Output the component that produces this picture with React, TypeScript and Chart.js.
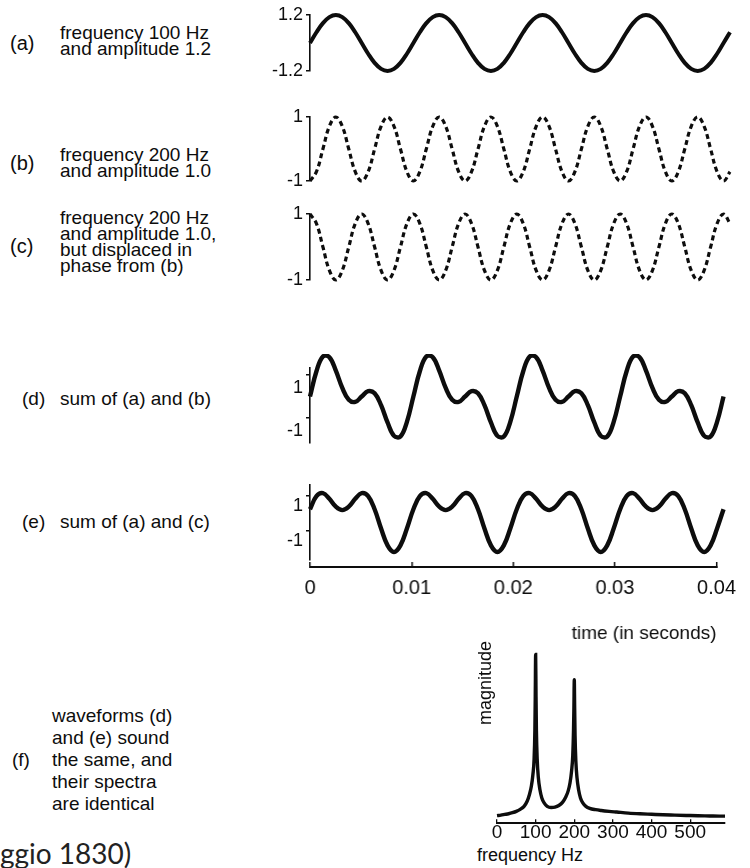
import React, { useEffect, useRef } from "react";
import { Chart, registerables } from "chart.js";

Chart.register(...registerables);

// ---------------- data ----------------
const sampleTimes = [
  0, 0.000625, 0.00125, 0.001875, 0.0025, 0.003125, 0.00375, 0.004375,
  0.005, 0.005625, 0.00625, 0.006875, 0.0075, 0.008125, 0.00875, 0.009375,
  0.01, 0.010625, 0.01125, 0.011875, 0.0125, 0.013125, 0.01375, 0.014375,
  0.015, 0.015625, 0.01625, 0.016875, 0.0175, 0.018125, 0.01875, 0.019375,
  0.02, 0.020625, 0.02125, 0.021875, 0.0225, 0.023125, 0.02375, 0.024375,
  0.025, 0.025625, 0.02625, 0.026875, 0.0275, 0.028125, 0.02875, 0.029375,
  0.03, 0.030625, 0.03125, 0.031875, 0.0325, 0.033125, 0.03375, 0.034375,
  0.035, 0.035625, 0.03625, 0.036875, 0.0375, 0.038125, 0.03875, 0.039375,
  0.04, 0.040625,
];

// (a) 100 Hz, amplitude 1.2
const waveA = [
  0, 0.46, 0.85, 1.11, 1.2, 1.11, 0.85, 0.46, 0, -0.46, -0.85, -1.11, -1.2, -1.11, -0.85, -0.46,
  0, 0.46, 0.85, 1.11, 1.2, 1.11, 0.85, 0.46, 0, -0.46, -0.85, -1.11, -1.2, -1.11, -0.85, -0.46,
  0, 0.46, 0.85, 1.11, 1.2, 1.11, 0.85, 0.46, 0, -0.46, -0.85, -1.11, -1.2, -1.11, -0.85, -0.46,
  0, 0.46, 0.85, 1.11, 1.2, 1.11, 0.85, 0.46, 0, -0.46, -0.85, -1.11, -1.2, -1.11, -0.85, -0.46,
  0, 0.46,
];

// (b) 200 Hz, amplitude 1.0
const waveB = [
  -1, -0.71, 0, 0.71, 1, 0.71, 0, -0.71, -1, -0.71, 0, 0.71, 1, 0.71, 0, -0.71,
  -1, -0.71, 0, 0.71, 1, 0.71, 0, -0.71, -1, -0.71, 0, 0.71, 1, 0.71, 0, -0.71,
  -1, -0.71, 0, 0.71, 1, 0.71, 0, -0.71, -1, -0.71, 0, 0.71, 1, 0.71, 0, -0.71,
  -1, -0.71, 0, 0.71, 1, 0.71, 0, -0.71, -1, -0.71, 0, 0.71, 1, 0.71, 0, -0.71,
  -1, -0.71,
];

// (c) 200 Hz, amplitude 1.0, displaced in phase
const waveC = [
  1, 0.71, 0, -0.71, -1, -0.71, 0, 0.71, 1, 0.71, 0, -0.71, -1, -0.71, 0, 0.71,
  1, 0.71, 0, -0.71, -1, -0.71, 0, 0.71, 1, 0.71, 0, -0.71, -1, -0.71, 0, 0.71,
  1, 0.71, 0, -0.71, -1, -0.71, 0, 0.71, 1, 0.71, 0, -0.71, -1, -0.71, 0, 0.71,
  1, 0.71, 0, -0.71, -1, -0.71, 0, 0.71, 1, 0.71, 0, -0.71, -1, -0.71, 0, 0.71,
  1, 0.71,
];

// (d) sum of (a) and (b)
const waveD = [
  0, 1.17, 1.85, 1.82, 1.2, 0.4, -0.15, -0.25, 0, 0.25, 0.15, -0.4, -1.2, -1.82, -1.85, -1.17,
  0, 1.17, 1.85, 1.82, 1.2, 0.4, -0.15, -0.25, 0, 0.25, 0.15, -0.4, -1.2, -1.82, -1.85, -1.17,
  0, 1.17, 1.85, 1.82, 1.2, 0.4, -0.15, -0.25, 0, 0.25, 0.15, -0.4, -1.2, -1.82, -1.85, -1.17,
  0, 1.17, 1.85, 1.82, 1.2, 0.4, -0.15, -0.25, 0, 0.25, 0.15, -0.4, -1.2, -1.82, -1.85, -1.17,
  0,
];

// (e) sum of (a) and (c)
const waveE = [
  0.25, 1, 1.17, 0.85, 0.4, 0.2, 0.4, 0.85, 1.17, 1, 0.25, -0.85, -1.82, -2.2, -1.82, -0.85,
  0.25, 1, 1.17, 0.85, 0.4, 0.2, 0.4, 0.85, 1.17, 1, 0.25, -0.85, -1.82, -2.2, -1.82, -0.85,
  0.25, 1, 1.17, 0.85, 0.4, 0.2, 0.4, 0.85, 1.17, 1, 0.25, -0.85, -1.82, -2.2, -1.82, -0.85,
  0.25, 1, 1.17, 0.85, 0.4, 0.2, 0.4, 0.85, 1.17, 1, 0.25, -0.85, -1.82, -2.2, -1.82, -0.85,
  0.25,
];

const ampTicksA = [1.2, -1.2];
const ampTickLabelsA = ["1.2", "-1.2"];
const ampTicks = [1, -1];
const ampTickLabels = ["1", "-1"];

const timeTicks = [0, 0.01, 0.02, 0.03, 0.04];
const timeTickLabels = ["0", "0.01", "0.02", "0.03", "0.04"];

// (f) spectrum
const specFreq = [
  0, 10, 20, 30, 40, 50, 60, 70, 78, 84, 89, 93, 96, 98, 99, 100, 101, 102, 104, 107, 111, 116,
  122, 130, 140, 150, 160, 170, 178, 184, 189, 193, 196, 198, 199, 200, 201, 202, 204, 207, 211,
  216, 222, 230, 240, 255, 270, 290, 310, 340, 370, 400, 430, 460, 490, 520, 550, 575, 590,
];
const specMag = [
  4.5, 4.8, 5.2, 5.6, 6.2, 7, 8.2, 10, 13, 17, 22, 29, 38, 55, 75, 100, 75, 55, 38, 27, 20, 15,
  12, 10, 9.3, 9.5, 10.5, 12.5, 15.5, 19, 24, 31, 40, 55, 68, 85, 68, 52, 37, 27, 20,
  15, 12, 10, 8.8, 8, 7.5, 7, 6.6, 6, 5.6, 5.3, 5, 4.8, 4.6, 4.4, 4.3, 4.2, 4.2,
];
const freqTicks = [0, 100, 200, 300, 400, 500];
const freqTickLabels = ["0", "100", "200", "300", "400", "500"];

// ---------------- styling ----------------
const INK = "#0d0d0d";
const SANS = "'Liberation Sans', Arial, Helvetica, sans-serif";
const WAVE_LEFT = 250;
const WAVE_W = 490;
const Y_AXIS_W = 60;
const WAVE_RPAD = 10;
const VPAD = 14;

type WaveProps = {
  values: number[];
  dashed?: boolean;
  yMin: number;
  yMax: number;
  areaTop: number;
  areaBottom: number;
  ticks: number[];
  tickLabels: string[];
  labelOffset?: number;
  lineWidth?: number;
};

function WavePanel(p: WaveProps) {
  const ref = useRef<HTMLCanvasElement>(null);
  const h = p.areaBottom - p.areaTop + 2 * VPAD;
  useEffect(() => {
    const tMax = sampleTimes[sampleTimes.length - 1];
    const chart = new Chart(ref.current as HTMLCanvasElement, {
      type: "line",
      data: {
        datasets: [
          {
            data: p.values.map((v, i) => ({ x: sampleTimes[i], y: v })),
            borderColor: INK,
            borderWidth: p.lineWidth ?? (p.dashed ? 3.2 : 4),
            borderDash: p.dashed ? [5, 3.5] : [],
            borderCapStyle: "butt",
            pointRadius: 0,
            tension: 0.4,
            fill: false,
            clip: false as any,
          },
        ],
      },
      options: {
        animation: false,
        responsive: false,
        maintainAspectRatio: false,
        events: [],
        layout: { padding: { top: VPAD, bottom: VPAD, left: 0, right: WAVE_RPAD } },
        plugins: { legend: { display: false }, tooltip: { enabled: false } },
        scales: {
          x: { type: "linear", min: 0, max: tMax, display: false },
          y: {
            type: "linear",
            min: p.yMin,
            max: p.yMax,
            afterBuildTicks: (s: any) => {
              s.ticks = p.ticks.map((v) => ({ value: v }));
            },
            afterFit: (s: any) => {
              s.width = Y_AXIS_W;
              s.paddingTop = 0;
              s.paddingBottom = 0;
            },
            ticks: {
              callback: (_v: any, i: number) => p.tickLabels[i],
              font: { family: SANS, size: 18 },
              color: INK,
              padding: 3,
              labelOffset: p.labelOffset ?? 0,
            },
            grid: {
              display: true,
              drawOnChartArea: false,
              drawTicks: true,
              tickLength: 4,
              color: INK,
              lineWidth: 1.5,
            },
            border: { display: true, color: INK, width: 1.6 },
          },
        },
      },
    } as any);
    return () => chart.destroy();
  }, []);
  return (
    <canvas
      ref={ref}
      width={WAVE_W}
      height={h}
      style={{ position: "absolute", left: WAVE_LEFT, top: p.areaTop - VPAD, width: WAVE_W, height: h }}
    />
  );
}

function TimeAxis() {
  const ref = useRef<HTMLCanvasElement>(null);
  const pxPerSec = (WAVE_W - Y_AXIS_W - WAVE_RPAD) / sampleTimes[sampleTimes.length - 1];
  const areaW = 0.04 * pxPerSec;
  const rpad = 26;
  const w = Y_AXIS_W + areaW + rpad;
  const h = 180;
  const axisH = -5 + 24 + 14 + 24 + 24;
  const top = 576 - (h - axisH);
  useEffect(() => {
    const chart = new Chart(ref.current as HTMLCanvasElement, {
      type: "line",
      data: { datasets: [] },
      options: {
        animation: false,
        responsive: false,
        maintainAspectRatio: false,
        events: [],
        layout: { padding: { top: 0, bottom: 0, left: Y_AXIS_W, right: rpad } },
        plugins: { legend: { display: false }, tooltip: { enabled: false } },
        scales: {
          x: {
            type: "linear",
            min: 0,
            max: 0.04,
            afterBuildTicks: (s: any) => {
              s.ticks = timeTicks.map((v) => ({ value: v }));
            },
            ticks: {
              callback: (_v: any, i: number) => timeTickLabels[i],
              font: { family: SANS, size: 20 },
              color: INK,
              padding: 14,
              maxRotation: 0,
              autoSkip: false,
            },
            grid: {
              display: true,
              drawOnChartArea: false,
              drawTicks: true,
              tickLength: -5,
              color: INK,
              lineWidth: 1.5,
            },
            border: { display: true, color: INK, width: 2 },
            title: {
              display: true,
              text: "time (in seconds)",
              align: "end",
              color: INK,
              font: { family: SANS, size: 19 },
              padding: { top: 12, bottom: 12 },
            },
          },
          y: { type: "linear", min: 0, max: 1, display: false },
        },
      },
    } as any);
    return () => chart.destroy();
  }, []);
  return (
    <canvas
      ref={ref}
      width={w}
      height={h}
      style={{ position: "absolute", left: WAVE_LEFT, top, width: w, height: h }}
    />
  );
}

function Spectrum() {
  const ref = useRef<HTMLCanvasElement>(null);
  const left = 460;
  const padL = 15.4;
  const padR = 12;
  const padT = 10;
  const w = 277;
  const areaH = 184.7;
  const axisH = -4 + 22.8 + 2.5;
  const top = 826 - areaH - padT;
  const h = padT + areaH + axisH;
  useEffect(() => {
    const chart = new Chart(ref.current as HTMLCanvasElement, {
      type: "line",
      data: {
        datasets: [
          {
            data: specFreq.map((f, i) => ({ x: f, y: specMag[i] })),
            borderColor: INK,
            borderWidth: 3.4,
            pointRadius: 0,
            cubicInterpolationMode: "monotone",
            fill: false,
            clip: false as any,
          },
        ],
      },
      options: {
        animation: false,
        responsive: false,
        maintainAspectRatio: false,
        events: [],
        layout: { padding: { top: padT, bottom: 0, left: padL, right: padR } },
        plugins: { legend: { display: false }, tooltip: { enabled: false } },
        scales: {
          x: {
            type: "linear",
            min: 0,
            max: 590,
            afterBuildTicks: (s: any) => {
              s.ticks = freqTicks.map((v) => ({ value: v }));
            },
            ticks: {
              callback: (_v: any, i: number) => freqTickLabels[i],
              font: { family: SANS, size: 19 },
              color: INK,
              padding: 2.5,
              maxRotation: 0,
              autoSkip: false,
            },
            grid: {
              display: true,
              drawOnChartArea: false,
              drawTicks: true,
              tickLength: -4,
              color: INK,
              lineWidth: 1.3,
            },
            border: { display: true, color: INK, width: 2 },
          },
          y: {
            type: "linear",
            min: 0,
            max: 108,
            afterFit: (s: any) => {
              s.paddingTop = 0;
              s.paddingBottom = 0;
            },
            ticks: { display: false },
            grid: { display: false, drawTicks: false },
            border: { display: false },
            title: {
              display: true,
              text: "magnitude",
              align: "end",
              color: INK,
              font: { family: SANS, size: 18 },
              padding: { top: 0, bottom: 0 },
            },
          },
        },
      },
    } as any);
    return () => chart.destroy();
  }, []);
  return (
    <canvas
      ref={ref}
      width={w}
      height={h}
      style={{ position: "absolute", left, top, width: w, height: h }}
    />
  );
}

const textStyle: React.CSSProperties = {
  position: "absolute",
  fontFamily: SANS,
  lineHeight: "16px",
  color: INK,
  whiteSpace: "nowrap",
};

function Lines({ x, y, lines, gap = 16, size = 19 }: { x: number; y: number; lines: string[]; gap?: number; size?: number }) {
  return (
    <>
      {lines.map((t, i) => (
        <div key={i} style={{ ...textStyle, fontSize: size, left: x, top: y + i * gap - 8 }}>
          {t}
        </div>
      ))}
    </>
  );
}

export default function App() {
  return (
    <div
      style={{
        position: "absolute",
        left: 0,
        top: 0,
        width: 750,
        height: 868,
        overflow: "hidden",
        background: "#ffffff",
      }}
    >
      {/* left-hand captions */}
      <Lines x={10} y={43} size={20} lines={["(a)"]} />
      <Lines x={60} y={33} lines={["frequency 100 Hz", "and amplitude 1.2"]} />
      <Lines x={10} y={163} size={20} lines={["(b)"]} />
      <Lines x={60} y={155} lines={["frequency 200 Hz", "and amplitude 1.0"]} />
      <Lines x={10} y={246} size={20} lines={["(c)"]} />
      <Lines
        x={60}
        y={218}
        gap={16}
        lines={["frequency 200 Hz", "and amplitude 1.0,", "but displaced in", "phase from (b)"]}
      />
      <Lines x={22} y={399} lines={["(d)"]} />
      <Lines x={60} y={399} lines={["sum of (a) and (b)"]} />
      <Lines x={22} y={522} lines={["(e)"]} />
      <Lines x={60} y={522} lines={["sum of (a) and (c)"]} />
      <Lines x={12} y={760} lines={["(f)"]} />
      <Lines
        x={52}
        y={716}
        gap={22}
        lines={["waveforms (d)", "and (e) sound", "the same, and", "their spectra", "are identical"]}
      />
      <Lines x={477} y={855} size={18} lines={["frequency Hz"]} />
      <div
        style={{
          position: "absolute",
          left: 0,
          top: 836,
          fontFamily: "Lato, 'Open Sans', sans-serif",
          fontSize: 28,
          lineHeight: "34px",
          color: "#222",
          whiteSpace: "nowrap",
        }}
      >
        ggio 1830)
      </div>

      <WavePanel values={waveA} yMin={-1.2} yMax={1.2} areaTop={15} areaBottom={71} ticks={ampTicksA} tickLabels={ampTickLabelsA} />
      <WavePanel values={waveB} dashed yMin={-1} yMax={1} areaTop={117} areaBottom={181} ticks={ampTicks} tickLabels={ampTickLabels} />
      <WavePanel values={waveC} dashed yMin={-1} yMax={1} areaTop={214} areaBottom={280} ticks={ampTicks} tickLabels={ampTickLabels} />
      <WavePanel values={waveD} yMin={-2.15} yMax={1.32} areaTop={368} areaBottom={443} ticks={ampTicks} tickLabels={ampTickLabels} labelOffset={13} lineWidth={4.4} />
      <WavePanel values={waveE} yMin={-2.66} yMax={1.64} areaTop={485} areaBottom={560} ticks={ampTicks} tickLabels={ampTickLabels} labelOffset={10} lineWidth={4.4} />
      <TimeAxis />
      <Spectrum />
    </div>
  );
}
